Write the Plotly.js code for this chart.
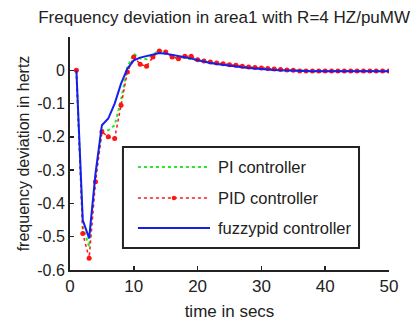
<!DOCTYPE html>
<html><head><meta charset="utf-8">
<script src="https://cdn.plot.ly/plotly-3.0.1.min.js"></script>
<style>body{margin:0;background:#fff}#chart{width:415px;height:324px}</style>
</head><body><div id="chart"></div>
<script>
const time = [1,2,3,4,5,6,7,8,9,10,11,12,13,14,15,16,17,18,19,20,21,22,23,24,25,26,27,28,29,30,31,32,33,34,35,36,37,38,39,40,41,42,43,44,45,46,47,48,49,50];
const piController = [0,-0.47,-0.53,-0.32,-0.18,-0.18,-0.165,-0.09,0.01,0.05,0.035,0.033,0.047,0.06,0.055,0.045,0.04,0.037,0.035,0.03,0.026,0.023,0.02,0.017,0.014,0.012,0.01,0.008,0.006,0.004,0.003,0.002,0.001,0,-0.001,-0.002,-0.002,-0.002,-0.002,-0.002,-0.002,-0.002,-0.002,-0.002,-0.002,-0.002,-0.002,-0.002,-0.002,-0.002];
const pidController = [0,-0.49,-0.565,-0.335,-0.185,-0.2,-0.205,-0.105,-0.005,0.04,0.018,0.012,0.04,0.058,0.055,0.04,0.035,0.042,0.042,0.032,0.028,0.025,0.022,0.02,0.017,0.015,0.012,0.01,0.008,0.007,0.005,0.004,0.002,0.001,0,-0.002,-0.002,-0.002,-0.002,-0.002,-0.002,-0.002,-0.002,-0.002,-0.002,-0.002,-0.002,-0.002,-0.002,-0.002];
const fuzzyPid = [0,-0.45,-0.505,-0.31,-0.165,-0.145,-0.1,-0.04,0.005,0.03,0.038,0.043,0.048,0.052,0.05,0.047,0.043,0.039,0.035,0.03,0.026,0.022,0.019,0.016,0.013,0.011,0.009,0.007,0.005,0.004,0.002,0.001,0,-0.001,-0.002,-0.003,-0.003,-0.003,-0.003,-0.003,-0.003,-0.003,-0.003,-0.003,-0.003,-0.003,-0.003,-0.003,-0.003,-0.003];
const seriesNames = ['PI controller','PID controller','fuzzypid controller'];
const yTicks = [-0.6,-0.5,-0.4,-0.3,-0.2,-0.1,0];
const yTickText = ['-0.6','-0.5','-0.4','-0.3','-0.2','-0.1','0'];
const xTicks = [0,10,20,30,40,50];

const colors = ['rgb(40,230,40)','rgb(255,20,20)','rgb(20,30,240)'];
const traces = [
  {x: time, y: piController, name: seriesNames[0], mode: 'lines',
   line: {color: colors[0], width: 2, dash: 'dot'}},
  {x: time, y: pidController, name: seriesNames[1], mode: 'lines+markers',
   line: {color: colors[1], width: 1.5, dash: 'dot'}, marker: {color: colors[1], size: 5}},
  {x: time, y: fuzzyPid, name: seriesNames[2], mode: 'lines',
   line: {color: colors[2], width: 2}}
];

// manual legend (paper coords) to get long MATLAB-style line samples
const lgX0 = 0.166, lgX1 = 0.906, lgY0 = 0.094, lgY1 = 0.528;
const rowY = [0.442, 0.309, 0.180];
const sampleX0 = 0.213, sampleX1 = 0.439, textX = 0.458;
const shapes = [
  {type: 'rect', xref: 'paper', yref: 'paper', x0: lgX0, x1: lgX1, y0: lgY0, y1: lgY1,
   fillcolor: '#fff', line: {color: '#222', width: 2}, layer: 'above'}
];
const dashes = ['dot','dot','solid'];
const annotations = [];
for (let i = 0; i < 3; i++) {
  shapes.push({type: 'line', xref: 'paper', yref: 'paper', x0: sampleX0, x1: sampleX1, y0: rowY[i], y1: rowY[i],
    line: {color: colors[i], width: i === 1 ? 1.5 : 2, dash: dashes[i]}, layer: 'above'});
  annotations.push({xref: 'paper', yref: 'paper', x: textX, y: rowY[i], xanchor: 'left', yanchor: 'middle',
    text: seriesNames[i], showarrow: false, font: {size: 16.5, color: '#222'}});
}
const mx = (sampleX0 + sampleX1) / 2;
shapes.push({type: 'circle', xref: 'paper', yref: 'paper', x0: mx - 0.007, x1: mx + 0.007, y0: rowY[1] - 0.0095, y1: rowY[1] + 0.0095,
  fillcolor: colors[1], line: {width: 0}, layer: 'above'});

const layout = {
  width: 415, height: 324,
  margin: {l: 70, r: 26, t: 37, b: 54},
  paper_bgcolor: '#fff', plot_bgcolor: '#fff',
  font: {family: 'Liberation Sans, Arial, sans-serif', size: 16, color: '#222'},
  title: {text: 'Frequency deviation in area1 with R=4 HZ/puMW', x: 0.54, xanchor: 'center', y: 0.948, yanchor: 'middle', font: {size: 17, color: '#222'}},
  xaxis: {range: [0, 50], tickvals: xTicks, ticks: 'inside', ticklen: 4, tickwidth: 1.5, tickcolor: '#222',
    showline: true, linecolor: '#222', linewidth: 2, showgrid: false, zeroline: false, mirror: false,
    tickfont: {size: 17},
    title: {text: 'time in secs', font: {size: 17}, standoff: 10}},
  yaxis: {range: [-0.6, 0.1], tickvals: yTicks, ticktext: yTickText, ticks: 'inside', ticklen: 4, tickwidth: 1.5, tickcolor: '#222',
    showline: true, linecolor: '#222', linewidth: 2, showgrid: false, zeroline: false, mirror: false,
    tickfont: {size: 16},
    title: {text: 'frequency deviation in hertz', font: {size: 16}, standoff: 4}},
  showlegend: false,
  shapes: shapes,
  annotations: annotations
};
Plotly.newPlot('chart', traces, layout, {displayModeBar: false, staticPlot: true});
</script></body></html>
